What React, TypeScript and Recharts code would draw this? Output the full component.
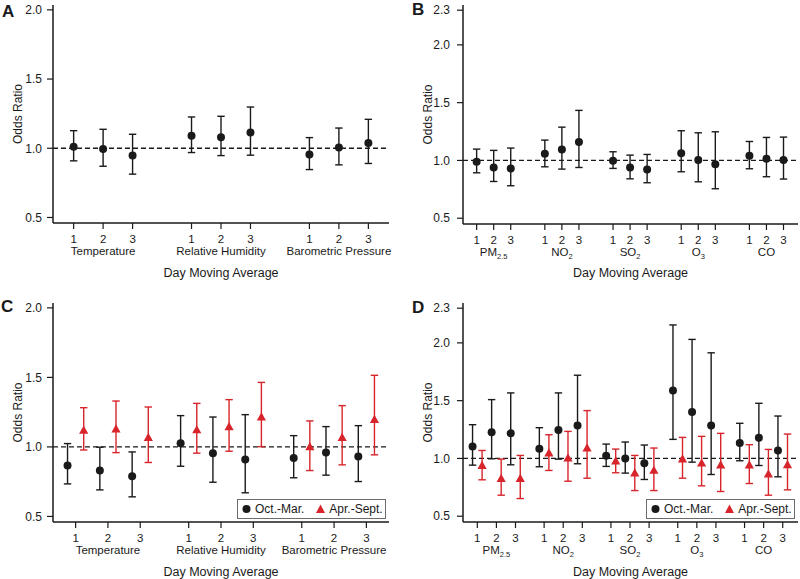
import React from "react";
import { ScatterChart, Scatter, XAxis, YAxis, ErrorBar, ReferenceLine, Legend } from "recharts";

// Tick labels and group names
const lagDays = ["1", "2", "3"];
const weatherGroups = ["Temperature", "Relative Humidity", "Barometric Pressure"];
const pollutantNames = ["PM", "NO", "SO", "O", "CO"];
const pollutantSubs = ["2.5", "2", "2", "3", ""];
const seasonNames = ["Oct.-Mar.", "Apr.-Sept."];

// Panel A - weather, all year
const aOr = [1.01, 0.995, 0.947, 1.091, 1.079, 1.113, 0.954, 1.005, 1.038];
const aLo = [0.909, 0.87, 0.813, 0.969, 0.947, 0.95, 0.846, 0.88, 0.89];
const aHi = [1.127, 1.137, 1.101, 1.226, 1.231, 1.298, 1.077, 1.146, 1.209];

// Panel B - pollutants, all year
const bOr = [0.988, 0.939, 0.931, 1.058, 1.095, 1.159, 0.997, 0.939, 0.922, 1.063, 1.003, 0.968, 1.04, 1.014, 1.003];
const bLo = [0.893, 0.818, 0.781, 0.945, 0.925, 0.939, 0.931, 0.841, 0.807, 0.902, 0.815, 0.755, 0.928, 0.859, 0.839];
const bHi = [1.098, 1.087, 1.107, 1.176, 1.288, 1.433, 1.075, 1.046, 1.052, 1.257, 1.239, 1.248, 1.164, 1.199, 1.202];

// Panel C - weather by season
const cColdOr = [0.866, 0.83, 0.789, 1.026, 0.955, 0.909, 0.921, 0.959, 0.931];
const cColdLo = [0.734, 0.691, 0.641, 0.861, 0.746, 0.67, 0.778, 0.797, 0.751];
const cColdHi = [1.024, 0.998, 0.964, 1.225, 1.215, 1.232, 1.081, 1.146, 1.153];
const cWarmOr = [1.12, 1.129, 1.067, 1.122, 1.144, 1.215, 1.0, 1.067, 1.196];
const cWarmLo = [0.978, 0.959, 0.888, 0.955, 0.969, 1.002, 0.83, 0.871, 0.943];
const cWarmHi = [1.282, 1.33, 1.287, 1.313, 1.34, 1.464, 1.187, 1.297, 1.515];

// Panel D - pollutants by season
const dColdOr = [1.104, 1.226, 1.217, 1.084, 1.246, 1.284, 1.023, 1.0, 0.959, 1.587, 1.402, 1.284, 1.133, 1.179, 1.069];
const dColdLo = [0.942, 0.997, 0.945, 0.928, 0.994, 0.954, 0.931, 0.873, 0.818, 1.165, 0.968, 0.861, 0.98, 0.939, 0.841];
const dColdHi = [1.292, 1.509, 1.567, 1.266, 1.567, 1.72, 1.124, 1.142, 1.116, 2.155, 2.03, 1.914, 1.304, 1.477, 1.367];
const dWarmOr = [0.939, 0.826, 0.826, 1.046, 1.003, 1.09, 0.977, 0.873, 0.896, 0.994, 0.959, 0.942, 0.942, 0.864, 0.945];
const dWarmLo = [0.815, 0.682, 0.653, 0.896, 0.803, 0.829, 0.876, 0.722, 0.722, 0.829, 0.763, 0.714, 0.783, 0.682, 0.728];
const dWarmHi = [1.069, 0.994, 1.026, 1.205, 1.234, 1.414, 1.081, 1.026, 1.09, 1.182, 1.191, 1.217, 1.119, 1.078, 1.211];

const FONT = '"Liberation Sans", Arial, sans-serif';
const INK = "#1a1a1a";
const RED = "#d7252b";

// x positions of the 1/2/3 day ticks, groups separated by a gap
const groupPositions = (groups: number, step: number) => {
  const out: number[] = [];
  for (let g = 0; g < groups; g++) for (let k = 0; k < 3; k++) out.push(1 + g * step + k);
  return out;
};

const rows = (pos: number[], or: number[], lo: number[], hi: number[], shift = 0) =>
  or.map((v, i) => ({ x: pos[i] + shift, y: v, err: [v - lo[i], hi[i] - v] }));

const Dot = (p: any) => <circle cx={p.cx} cy={p.cy} r={4} fill={INK} />;
const Tri = (p: any) => (
  <polygon
    points={`${p.cx},${p.cy - 4.8} ${p.cx + 4.6},${p.cy + 3.4} ${p.cx - 4.6},${p.cy + 3.4}`}
    fill={RED}
  />
);

const GroupLabel = ({ x, y, idx, pollutant }: any) => {
  if (!pollutant)
    return (
      <text x={x} y={y} textAnchor="middle" fontSize={11.5} fill={INK}>
        {weatherGroups[idx]}
      </text>
    );
  return (
    <text x={x} y={y} textAnchor="middle" fontSize={11.5} fill={INK}>
      <tspan>{pollutantNames[idx]}</tspan>
      {pollutantSubs[idx] && (
        <tspan fontSize={7.5} dy={2.5}>
          {pollutantSubs[idx]}
        </tspan>
      )}
    </text>
  );
};

const renderLegend = ({ payload }: any) => {
  const items = [...(payload || [])].sort(
    (a: any, b: any) => seasonNames.indexOf(a.value) - seasonNames.indexOf(b.value)
  );
  return (
    <div
      style={{
        boxSizing: "border-box",
        height: 20,
        border: "1px solid #6b6b6b",
        background: "#fff",
        display: "flex",
        alignItems: "center",
        paddingLeft: 4,
        fontFamily: FONT,
        fontSize: 12,
        color: INK,
      }}
    >
      {items.map((entry: any, i: number) => (
        <span key={i} style={{ display: "flex", alignItems: "center", marginRight: i === 0 ? 12 : 0 }}>
          <svg width={9} height={10} style={{ marginRight: 4 }}>
            {seasonNames.indexOf(entry.value) === 0 ? (
              <circle cx={4.5} cy={5} r={4} fill={INK} />
            ) : (
              <polygon points="4.5,0.5 9,9 0,9" fill={RED} />
            )}
          </svg>
          {entry.value}
        </span>
      ))}
    </div>
  );
};

type Series = { name: string; data: any[]; color: string; shape: any };

const Panel = (props: {
  left: number;
  top: number;
  height: number;
  marginTop: number;
  marginRight: number;
  yWidth: number;
  xHeight: number;
  xDomain: number[];
  yDomain: number[];
  yTicks: number[];
  ticks: number[];
  pollutant: boolean;
  series: Series[];
  titleOffset: number;
  legendBox?: { left: number; top: number; width: number };
}) => {
  const p = props;
  const tick = (t: any) => {
    const i = p.ticks.indexOf(t.payload.value);
    return (
      <g>
        <text x={t.x} y={t.y + 11.5} textAnchor="middle" fontSize={11.5} fill={INK}>
          {lagDays[i % 3]}
        </text>
        {i % 3 === 1 && <GroupLabel x={t.x} y={t.y + 24} idx={Math.floor(i / 3)} pollutant={p.pollutant} />}
      </g>
    );
  };
  return (
    <div style={{ position: "absolute", left: p.left, top: p.top }}>
      <ScatterChart
        width={400}
        height={p.height}
        margin={{ top: p.marginTop, right: p.marginRight, left: 0, bottom: 0 }}
        style={{ fontFamily: FONT }}
      >
        <XAxis
          type="number"
          dataKey="x"
          domain={p.xDomain}
          ticks={p.ticks}
          interval={0}
          allowDataOverflow
          height={p.xHeight}
          tickSize={6}
          tickMargin={2}
          axisLine={{ stroke: INK, strokeWidth: 1.5 }}
          tickLine={{ stroke: INK, strokeWidth: 1.2 }}
          tick={tick}
          label={{
            value: "Day Moving Average",
            position: "insideBottom",
            offset: p.titleOffset,
            style: { fontSize: 12.5, fill: INK },
          }}
        />
        <YAxis
          type="number"
          dataKey="y"
          domain={p.yDomain}
          ticks={p.yTicks}
          allowDataOverflow
          width={p.yWidth}
          tickSize={6}
          tickMargin={p.yWidth > 60 ? 7 : 5}
          tickFormatter={(v: number) => v.toFixed(1)}
          axisLine={{ stroke: INK, strokeWidth: 1.5 }}
          tickLine={{ stroke: INK, strokeWidth: 1.2 }}
          tick={{ fontSize: 12, fill: INK }}
          label={{
            value: "Odds Ratio",
            angle: -90,
            position: "insideLeft",
            offset: p.yWidth > 60 ? 28 : 18,
            style: { textAnchor: "middle", fontSize: 12, fill: INK },
          }}
        />
        <ReferenceLine y={1} stroke={INK} strokeWidth={1.3} strokeDasharray="5 3" />
        {p.series.map((s) => (
          <Scatter
            key={s.name}
            name={s.name}
            data={s.data}
            fill={s.color}
            shape={s.shape}
            isAnimationActive={false}
          >
            <ErrorBar dataKey="err" direction="y" width={3.7} stroke={s.color} strokeWidth={1.4} />
          </Scatter>
        ))}
        {p.legendBox && (
          <Legend
            layout="horizontal"
            verticalAlign="middle"
            align="center"
            wrapperStyle={{
              left: p.legendBox.left,
              top: p.legendBox.top,
              width: p.legendBox.width,
              height: 20,
              right: "auto",
              bottom: "auto",
            }}
            content={renderLegend}
          />
        )}
      </ScatterChart>
    </div>
  );
};

const letterStyle = (left: number, top: number): React.CSSProperties => ({
  position: "absolute",
  left,
  top,
  fontFamily: FONT,
  fontWeight: "bold",
  fontSize: 17,
  lineHeight: "17px",
  color: INK,
});

export default function App() {
  const posA = groupPositions(3, 4);
  const posB = groupPositions(5, 4);
  const posC = groupPositions(3, 3.5);
  const posD = groupPositions(5, 3.5);
  const off = 0.25;

  return (
    <div style={{ position: "absolute", left: 0, top: 0, width: 800, height: 579, background: "#fff" }}>
      <Panel
        left={0}
        top={0}
        height={290}
        marginTop={5}
        marginRight={11}
        yWidth={53}
        xHeight={67}
        xDomain={[0.3, 11.7]}
        yDomain={[0.46, 2.035]}
        yTicks={[0.5, 1.0, 1.5, 2.0]}
        ticks={posA}
        pollutant={false}
        titleOffset={13.5}
        series={[{ name: "all", data: rows(posA, aOr, aLo, aHi), color: INK, shape: Dot }]}
      />
      <Panel
        left={400}
        top={0}
        height={290}
        marginTop={5}
        marginRight={2}
        yWidth={63}
        xHeight={66}
        xDomain={[0.2, 19.85]}
        yDomain={[0.45, 2.345]}
        yTicks={[0.5, 1.0, 1.5, 2.0, 2.3]}
        ticks={posB}
        pollutant={true}
        titleOffset={13.5}
        series={[{ name: "all", data: rows(posB, bOr, bLo, bHi), color: INK, shape: Dot }]}
      />
      <Panel
        left={0}
        top={290}
        height={289}
        marginTop={13}
        marginRight={11}
        yWidth={53}
        xHeight={57}
        xDomain={[0.3, 10.7]}
        yDomain={[0.46, 2.035]}
        yTicks={[0.5, 1.0, 1.5, 2.0]}
        ticks={posC}
        pollutant={false}
        titleOffset={3.5}
        legendBox={{ left: 237, top: 209, width: 149 }}
        series={[
          { name: seasonNames[0], data: rows(posC, cColdOr, cColdLo, cColdHi, -off), color: INK, shape: Dot },
          { name: seasonNames[1], data: rows(posC, cWarmOr, cWarmLo, cWarmHi, off), color: RED, shape: Tri },
        ]}
      />
      <Panel
        left={400}
        top={290}
        height={289}
        marginTop={13}
        marginRight={2}
        yWidth={63}
        xHeight={57}
        xDomain={[0.25, 17.8]}
        yDomain={[0.45, 2.345]}
        yTicks={[0.5, 1.0, 1.5, 2.0, 2.3]}
        ticks={posD}
        pollutant={true}
        titleOffset={3.5}
        legendBox={{ left: 246, top: 209, width: 149 }}
        series={[
          { name: seasonNames[0], data: rows(posD, dColdOr, dColdLo, dColdHi, -off), color: INK, shape: Dot },
          { name: seasonNames[1], data: rows(posD, dWarmOr, dWarmLo, dWarmHi, off), color: RED, shape: Tri },
        ]}
      />
      <div style={letterStyle(2, 3)}>A</div>
      <div style={letterStyle(412, 1)}>B</div>
      <div style={letterStyle(1, 298)}>C</div>
      <div style={letterStyle(412, 299)}>D</div>
    </div>
  );
}
